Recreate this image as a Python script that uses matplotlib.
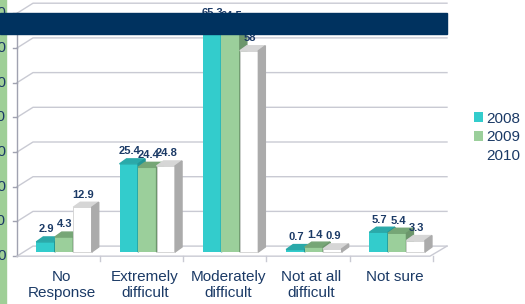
import matplotlib
matplotlib.use("Agg")
import matplotlib.pyplot as plt
from matplotlib.patches import Polygon, Rectangle, Patch
import numpy as np

categories = ["No\nResponse", "Extremely\ndifficult", "Moderately\ndifficult", "Not at all\ndifficult", "Not sure"]
years = ["2008", "2009", "2010"]
v2008 = [2.9, 25.4, 65.3, 0.7, 5.7]
v2009 = [4.3, 24.4, 64.5, 1.4, 5.4]
v2010 = [12.9, 24.8, 58.0, 0.9, 3.3]
yticks = [0, 10, 20, 30, 40, 50, 60, 70]

NAVY = "#1b3a66"
front_c = {"2008": "#33cccc", "2009": "#9bcf9b", "2010": "#ffffff"}
top_c = {"2008": "#2aa9a9", "2009": "#76a676", "2010": "#d6d6d6"}
side_c = {"2008": "#239696", "2009": "#6c966c", "2010": "#ababab"}

# pixel -> data: x = (px - 64) / 83.3 ; v = (252 - py) / 3.47
PXU, PYU = 83.3, 3.47
fig = plt.figure(figsize=(5.25, 3.04), dpi=100)
ax = fig.add_axes([0, 0, 1, 1])
ax.set_xlim(-64 / PXU, (525 - 64) / PXU)
ax.set_ylim((252 - 304) / PYU, 252 / PYU)
ax.axis("off")

w = 18.5 / PXU          # bar width
dx, dy = 7 / PXU, 5 / PYU   # depth of the bars
x = np.arange(len(categories))

# left green strip
ax.add_patch(Rectangle((-64 / PXU, -20), 6 / PXU, 100, color="#9fcf97", zorder=0))

# walls / grid
gx_front, gx_back, gx_end = (17 - 64) / PXU, (33 - 64) / PXU, (447 - 64) / PXU
f_off, b_off = -1.2, 1.7
grid_c = "#c9cad3"
for t in yticks:
    ax.plot([gx_front, gx_back, gx_end], [t + f_off, t + b_off, t + b_off], color=grid_c, lw=1, zorder=1)
    ax.plot([gx_front - 4 / PXU, gx_front], [t + f_off, t + f_off], color="#a0a2b0", lw=1, zorder=1)
    ax.text(6 / PXU - 64 / PXU, t + f_off, str(t), ha="right", va="center", fontsize=11,
            color=NAVY, family="Liberation Sans", zorder=1)
ax.plot([gx_front, gx_front], [f_off, 70 + f_off], color="#a0a2b0", lw=1, zorder=1)
floor_end = (430 - 64) / PXU
ax.plot([gx_front, floor_end, gx_end], [f_off, f_off, b_off], color=grid_c, lw=1, zorder=1)
for b in np.arange(len(categories) + 1) - 0.5 - 0.07:
    if b < gx_front:
        continue
    ax.plot([b, b], [f_off, f_off - 5 / PYU], color=grid_c, lw=1, zorder=1)

# 3d-looking bars
for k, (yr, vals) in enumerate(zip(years, [v2008, v2009, v2010])):
    xs = x + (k - 1) * w
    ec = "#d0d0d0" if yr == "2010" else "none"
    ax.bar(xs, vals, w, color=front_c[yr], edgecolor=ec, lw=0.6, zorder=3 + k)
    for xc, v in zip(xs, vals):
        l, r = xc - w / 2, xc + w / 2
        ax.add_patch(Polygon([(l, v), (r, v), (r + dx, v + dy), (l + dx, v + dy)],
                             closed=True, color=top_c[yr], zorder=3 + k))
        ax.add_patch(Polygon([(r, 0), (r + dx, dy), (r + dx, v + dy), (r, v)],
                             closed=True, color=side_c[yr], zorder=3 + k))
        ax.text(xc + 0.01, v + dy + 2.2, f"{v:g}", ha="center", va="center", fontsize=8,
                fontweight="bold", color=NAVY, family="Liberation Sans", zorder=8)

# category labels
for xc, lab in zip(x, categories):
    ax.text(xc - 0.03, (252 - 270) / PYU, lab, ha="center", va="top", fontsize=11,
            color=NAVY, family="Liberation Sans", linespacing=1.15, zorder=8)

# navy banner across the top
ax.add_patch(Rectangle((-64 / PXU, (252 - 34) / PYU), 447 / PXU, 21 / PYU,
                       color="#00325f", zorder=20))

handles = [Patch(facecolor=front_c[y], edgecolor="none") for y in years]
leg = ax.legend(handles, years, loc="upper left", bbox_to_anchor=(466 / 525, 1 - 104 / 304),
                frameon=False, prop={"family": "Liberation Sans", "size": 11},
                handlelength=0.6, handleheight=0.6, handletextpad=0.25, labelspacing=0.3,
                borderpad=0, labelcolor=NAVY)

fig.savefig("out.png", dpi=100)
